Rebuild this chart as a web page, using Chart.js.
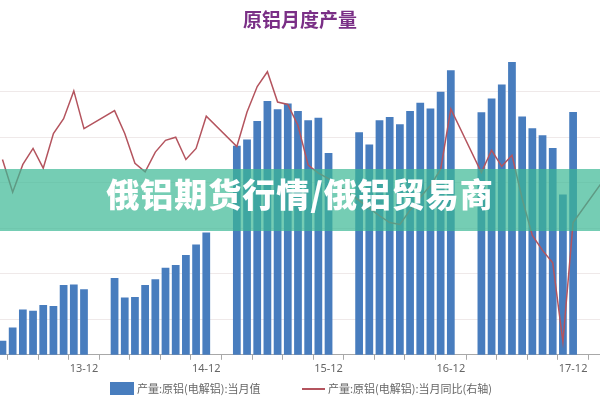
<!DOCTYPE html>
<html>
<head>
<meta charset="utf-8">
<script src="https://cdn.jsdelivr.net/npm/chart.js@4.4.0/dist/chart.umd.min.js"></script>
<style>
  body { margin: 0; background: #fff; }
  #wrap { position: relative; width: 600px; height: 400px; overflow: hidden; }
  #banner { position: absolute; left: 0; top: 169px; width: 600px; height: 62px;
    background: rgba(58, 184, 148, 0.7); color: #fff; text-align: center; line-height: 62px;
    font: 900 33px "Noto Sans CJK SC"; letter-spacing: 1px; }
  .lg { position: absolute; top: 381px; font: 11px "Noto Sans CJK SC"; line-height: 14px; color: #666; white-space: nowrap; }
</style>
</head>
<body>
<div id="wrap">
  <canvas id="myChart" width="600" height="400"></canvas>
  <div id="banner">俄铝期货行情/俄铝贸易商</div>
</div>
<script>
// months that have data (Jan/Feb are not published separately)
var months = [
  "13-04","13-05","13-06","13-07","13-08","13-09","13-10","13-11","13-12",
  "14-03","14-04","14-05","14-06","14-07","14-08","14-09","14-10","14-11","14-12",
  "15-03","15-04","15-05","15-06","15-07","15-08","15-09","15-10","15-11","15-12",
  "16-03","16-04","16-05","16-06","16-07","16-08","16-09","16-10","16-11","16-12",
  "17-03","17-04","17-05","17-06","17-07","17-08","17-09","17-10","17-11","17-12",
  "18-03"
];
// 当月值
var output = [
  170.7, 176.5, 184.4, 183.8, 186.3, 185.9, 195.1, 195.3, 193.2,
  198.2, 189.6, 189.9, 195.1, 197.6, 202.7, 203.9, 208.3, 212.9, 218.1,
  256.2, 258.9, 267.0, 275.8, 272.2, 274.7, 271.4, 267.4, 268.4, 253.0,
  262.1, 256.7, 267.4, 268.8, 265.6, 271.4, 275.0, 272.5, 279.8, 289.3,
  270.9, 276.9, 283.0, 292.9, 269.0, 263.8, 260.8, 255.2, 234.8, 271.0,
  null
];
// 当月同比 (%)
var yoy = [
  6.6, 1.3, 5.8, 8.4, 5.2, 10.8, 13.2, 17.7, 11.6,
  14.5, 10.8, 6.0, 4.6, 7.8, 9.7, 10.2, 6.6, 8.4, 13.6,
  8.7, 14.3, 18.4, 20.8, 15.9, 15.5, 12.1, 5.7, 4.4, 3.5,
  0.0, -1.3, -2.5, -3.6, -3.9, -1.6, 0.5, 2.4, 5.0, 14.8,
  4.5, 8.1, 5.5, 7.3, 0.3, -5.7, -8.1, -10.1, -22.9, -3.6,
  3.3
];
var tickLabels = ["13-12", "14-12", "15-12", "16-12", "17-12"];

var barColor = "#487dbe";
var lineColor = "#b4545e";

function monthIndex(m) {
  var p = m.split("-");
  return (Number(p[0]) - 13) * 12 + Number(p[1]) - 1;
}

var barData = months.map(function (m, i) { return {x: monthIndex(m), y: output[i]}; });
var lineData = months.map(function (m, i) { return {x: monthIndex(m), y: yoy[i]}; });

// quarter tick marks, labels only at December
var quarterTicks = [];
for (var v = monthIndex("13-06"); v <= monthIndex("17-12"); v += 3) quarterTicks.push(v);

var chart = new Chart("myChart", {
  data: {
    datasets: [{
      type: "line",
      label: "产量:原铝(电解铝):当月同比(右轴)",
      data: lineData,
      yAxisID: "y1",
      borderColor: lineColor,
      borderWidth: 1.5,
      pointRadius: 0,
      tension: 0,
      order: 0
    }, {
      type: "bar",
      label: "产量:原铝(电解铝):当月值",
      data: barData,
      yAxisID: "y",
      backgroundColor: barColor,
      barPercentage: 0.76,
      categoryPercentage: 1,
      order: 1
    }]
  },
  options: {
    responsive: false,
    animation: false,
    devicePixelRatio: 1,
    layout: {padding: {left: 0, right: 0, top: 0, bottom: 23}},
    plugins: {
      legend: {display: false},
      tooltip: {enabled: false},
      title: {
        display: true,
        text: "原铝月度产量",
        color: "#7a2f86",
        font: {family: "Noto Sans CJK SC", size: 19, weight: "bold"},
        padding: {top: 8, bottom: 15}
      }
    },
    scales: {
      x: {
        type: "linear",
        min: 2.757,
        max: 61.64,
        offset: false,
        afterBuildTicks: function (scale) {
          scale.ticks = quarterTicks.map(function (t) { return {value: t}; });
        },
        ticks: {
          autoSkip: false,
          maxRotation: 0,
          padding: 2,
          color: "#666",
          font: {family: "Noto Sans", size: 11},
          callback: function (value) {
            var lbl = tickLabels.find(function (t) { return monthIndex(t) === value; });
            return lbl || "";
          }
        },
        grid: {drawOnChartArea: false, drawTicks: true, tickLength: 5, color: "#a8a8a8"},
        border: {display: true, color: "#a8a8a8"}
      },
      y: {
        position: "left",
        min: 164.5,
        max: 300,
        ticks: {display: false, stepSize: 20},
        grid: {
          drawTicks: false,
          color: function (ctx) {
            var val = ctx.tick.value;
            return (val % 20 === 0 && val < 300) ? "#efe9e9" : "rgba(0,0,0,0)";
          }
        },
        border: {display: false}
      },
      y1: {
        position: "right",
        display: false,
        min: -25,
        max: 25
      }
    }
  }
});

// legend under the axis, built from the chart's datasets
var wrap = document.getElementById("wrap");
var barDs = chart.data.datasets[1], lineDs = chart.data.datasets[0];
function addEl(css, text) {
  var d = document.createElement("div");
  d.style.cssText = css;
  if (text) { d.className = "lg"; d.textContent = text; }
  wrap.appendChild(d);
}
addEl("position:absolute;left:110px;top:382px;width:24px;height:13px;background:" + barDs.backgroundColor);
addEl("left:137px", barDs.label);
addEl("position:absolute;left:302px;top:388px;width:23px;height:1.5px;background:" + lineDs.borderColor);
addEl("left:328px", lineDs.label);
</script>
</body>
</html>
